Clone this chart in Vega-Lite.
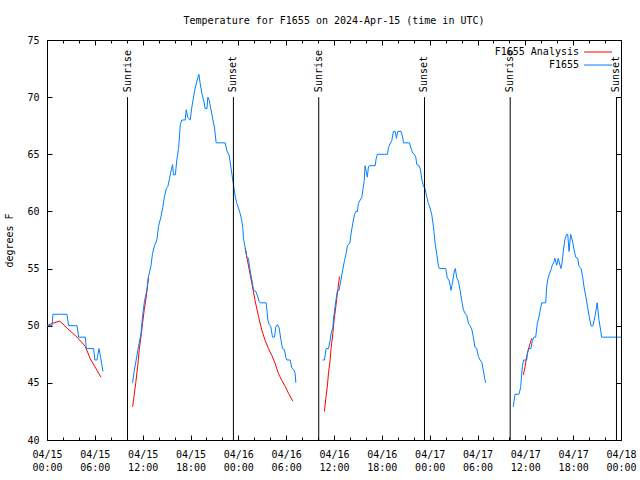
{
"$schema": "https://vega.github.io/schema/vega-lite/v6.json",
"width": 574, "height": 400,
"autosize": "none",
"padding": {"left": 47, "top": 40, "right": 19, "bottom": 40},
"background": "white",
"title": {"text": "Temperature for F1655 on 2024-Apr-15 (time in UTC)", "font": "DejaVu Sans Mono", "fontSize": 10, "fontWeight": "normal", "color": "black", "frame": "group", "anchor": "middle", "offset": 9},
"config": {
  "font": "DejaVu Sans Mono",
  "view": {"stroke": "black", "strokeWidth": 1},
  "axis": {"grid": false, "domain": false, "tickColor": "black", "tickWidth": 1, "labelColor": "black", "labelFont": "DejaVu Sans Mono", "labelFontSize": 10, "titleFont": "DejaVu Sans Mono", "titleFontSize": 10, "titleFontWeight": "normal", "titleColor": "black"},
  "legend": {"orient": "top-right", "offset": 7, "padding": 0, "symbolType": "M-4,0H4", "symbolSize": 49, "symbolStrokeWidth": 1, "labelAlign": "right", "labelOffset": -24, "labelFont": "DejaVu Sans Mono", "labelFontSize": 10, "labelColor": "black", "rowPadding": 3}
},
"datasets": {
  "analysis": [
    {"seg":1,"time":"2024-04-15T00:00:00Z","temp":50.0},{"seg":1,"time":"2024-04-15T00:38:00Z","temp":50.2},{"seg":1,"time":"2024-04-15T01:35:00Z","temp":50.4},{"seg":1,"time":"2024-04-15T01:46:00Z","temp":50.3},{"seg":1,"time":"2024-04-15T02:30:00Z","temp":49.8},{"seg":1,"time":"2024-04-15T03:46:00Z","temp":49.0},{"seg":1,"time":"2024-04-15T04:48:00Z","temp":48.2},{"seg":1,"time":"2024-04-15T05:26:00Z","temp":47.1},{"seg":1,"time":"2024-04-15T06:16:00Z","temp":46.1},{"seg":1,"time":"2024-04-15T06:46:00Z","temp":45.5},
    {"seg":2,"time":"2024-04-15T10:44:00Z","temp":42.9},{"seg":2,"time":"2024-04-15T10:56:00Z","temp":43.9},{"seg":2,"time":"2024-04-15T11:09:00Z","temp":45.1},{"seg":2,"time":"2024-04-15T11:22:00Z","temp":46.4},{"seg":2,"time":"2024-04-15T11:34:00Z","temp":47.9},{"seg":2,"time":"2024-04-15T11:47:00Z","temp":49.0},{"seg":2,"time":"2024-04-15T11:59:00Z","temp":50.2},{"seg":2,"time":"2024-04-15T12:12:00Z","temp":51.4},{"seg":2,"time":"2024-04-15T12:27:00Z","temp":52.5},{"seg":2,"time":"2024-04-15T12:44:00Z","temp":54.3},
    {"seg":3,"time":"2024-04-16T00:52:00Z","temp":56.8},{"seg":3,"time":"2024-04-16T01:04:00Z","temp":56.0},{"seg":3,"time":"2024-04-16T01:22:00Z","temp":54.9},{"seg":3,"time":"2024-04-16T01:42:00Z","temp":53.7},{"seg":3,"time":"2024-04-16T02:06:00Z","temp":52.2},{"seg":3,"time":"2024-04-16T02:32:00Z","temp":50.8},{"seg":3,"time":"2024-04-16T02:57:00Z","temp":49.6},{"seg":3,"time":"2024-04-16T03:22:00Z","temp":48.7},{"seg":3,"time":"2024-04-16T03:47:00Z","temp":48.0},{"seg":3,"time":"2024-04-16T04:12:00Z","temp":47.4},{"seg":3,"time":"2024-04-16T04:37:00Z","temp":46.7},{"seg":3,"time":"2024-04-16T05:02:00Z","temp":45.8},{"seg":3,"time":"2024-04-16T05:28:00Z","temp":45.2},{"seg":3,"time":"2024-04-16T05:52:00Z","temp":44.7},{"seg":3,"time":"2024-04-16T06:17:00Z","temp":44.1},{"seg":3,"time":"2024-04-16T06:50:00Z","temp":43.4},
    {"seg":4,"time":"2024-04-16T10:48:00Z","temp":42.5},{"seg":4,"time":"2024-04-16T10:58:00Z","temp":43.6},{"seg":4,"time":"2024-04-16T11:11:00Z","temp":44.8},{"seg":4,"time":"2024-04-16T11:18:00Z","temp":45.8},{"seg":4,"time":"2024-04-16T11:31:00Z","temp":47.0},{"seg":4,"time":"2024-04-16T11:38:00Z","temp":48.0},{"seg":4,"time":"2024-04-16T11:51:00Z","temp":49.3},{"seg":4,"time":"2024-04-16T12:01:00Z","temp":50.5},{"seg":4,"time":"2024-04-16T12:16:00Z","temp":51.9},{"seg":4,"time":"2024-04-16T12:41:00Z","temp":54.3},
    {"seg":5,"time":"2024-04-17T11:45:00Z","temp":45.7},{"seg":5,"time":"2024-04-17T11:58:00Z","temp":46.4},{"seg":5,"time":"2024-04-17T12:10:00Z","temp":47.3},{"seg":5,"time":"2024-04-17T12:22:00Z","temp":47.9},{"seg":5,"time":"2024-04-17T12:35:00Z","temp":48.4},{"seg":5,"time":"2024-04-17T12:48:00Z","temp":48.9}
  ],
  "obs": [
    {"seg":1,"time":"2024-04-15T00:00:00Z","temp":50},{"seg":1,"time":"2024-04-15T00:38:00Z","temp":50},{"seg":1,"time":"2024-04-15T00:45:00Z","temp":51},{"seg":1,"time":"2024-04-15T02:30:00Z","temp":51},{"seg":1,"time":"2024-04-15T02:43:00Z","temp":50},{"seg":1,"time":"2024-04-15T03:46:00Z","temp":50},{"seg":1,"time":"2024-04-15T03:58:00Z","temp":49},{"seg":1,"time":"2024-04-15T04:48:00Z","temp":49},{"seg":1,"time":"2024-04-15T04:56:00Z","temp":48},{"seg":1,"time":"2024-04-15T05:51:00Z","temp":48},{"seg":1,"time":"2024-04-15T06:00:00Z","temp":47},{"seg":1,"time":"2024-04-15T06:16:00Z","temp":47},{"seg":1,"time":"2024-04-15T06:31:00Z","temp":48},{"seg":1,"time":"2024-04-15T06:41:00Z","temp":47.4},{"seg":1,"time":"2024-04-15T06:51:00Z","temp":46.7},{"seg":1,"time":"2024-04-15T07:01:00Z","temp":46},
    {"seg":2,"time":"2024-04-15T10:44:00Z","temp":45.0},{"seg":2,"time":"2024-04-15T10:56:00Z","temp":46.0},{"seg":2,"time":"2024-04-15T11:11:00Z","temp":47.0},{"seg":2,"time":"2024-04-15T11:29:00Z","temp":48.2},{"seg":2,"time":"2024-04-15T11:47:00Z","temp":49.3},{"seg":2,"time":"2024-04-15T11:59:00Z","temp":50.8},{"seg":2,"time":"2024-04-15T12:14:00Z","temp":52.2},{"seg":2,"time":"2024-04-15T12:32:00Z","temp":53.1},{"seg":2,"time":"2024-04-15T12:44:00Z","temp":54.3},{"seg":2,"time":"2024-04-15T13:02:00Z","temp":55.2},{"seg":2,"time":"2024-04-15T13:14:00Z","temp":56.3},{"seg":2,"time":"2024-04-15T13:29:00Z","temp":57.0},{"seg":2,"time":"2024-04-15T13:47:00Z","temp":57.5},{"seg":2,"time":"2024-04-15T13:59:00Z","temp":58.7},{"seg":2,"time":"2024-04-15T14:17:00Z","temp":59.5},{"seg":2,"time":"2024-04-15T14:32:00Z","temp":60.4},{"seg":2,"time":"2024-04-15T14:44:00Z","temp":61.3},{"seg":2,"time":"2024-04-15T14:58:00Z","temp":62.0},{"seg":2,"time":"2024-04-15T15:10:00Z","temp":62.2},{"seg":2,"time":"2024-04-15T15:22:00Z","temp":62.9},{"seg":2,"time":"2024-04-15T15:35:00Z","temp":63.6},{"seg":2,"time":"2024-04-15T15:45:00Z","temp":64.1},{"seg":2,"time":"2024-04-15T15:52:00Z","temp":63.2},{"seg":2,"time":"2024-04-15T16:06:00Z","temp":63.2},{"seg":2,"time":"2024-04-15T16:17:00Z","temp":64.5},{"seg":2,"time":"2024-04-15T16:30:00Z","temp":65.5},{"seg":2,"time":"2024-04-15T16:37:00Z","temp":66.5},{"seg":2,"time":"2024-04-15T16:43:00Z","temp":67.6},{"seg":2,"time":"2024-04-15T16:55:00Z","temp":68.0},{"seg":2,"time":"2024-04-15T17:20:00Z","temp":68.0},{"seg":2,"time":"2024-04-15T17:28:00Z","temp":68.9},{"seg":2,"time":"2024-04-15T17:40:00Z","temp":68.2},{"seg":2,"time":"2024-04-15T17:58:00Z","temp":68.0},{"seg":2,"time":"2024-04-15T18:11:00Z","temp":69.2},{"seg":2,"time":"2024-04-15T18:23:00Z","temp":70.0},{"seg":2,"time":"2024-04-15T18:35:00Z","temp":70.8},{"seg":2,"time":"2024-04-15T18:53:00Z","temp":71.6},{"seg":2,"time":"2024-04-15T19:03:00Z","temp":72.0},{"seg":2,"time":"2024-04-15T19:13:00Z","temp":71.2},{"seg":2,"time":"2024-04-15T19:26:00Z","temp":70.3},{"seg":2,"time":"2024-04-15T19:43:00Z","temp":69.5},{"seg":2,"time":"2024-04-15T19:50:00Z","temp":69.0},{"seg":2,"time":"2024-04-15T20:04:00Z","temp":69.0},{"seg":2,"time":"2024-04-15T20:11:00Z","temp":70.0},{"seg":2,"time":"2024-04-15T20:21:00Z","temp":69.7},{"seg":2,"time":"2024-04-15T20:34:00Z","temp":68.9},{"seg":2,"time":"2024-04-15T20:49:00Z","temp":68.0},{"seg":2,"time":"2024-04-15T21:01:00Z","temp":67.3},{"seg":2,"time":"2024-04-15T21:13:00Z","temp":66.0},{"seg":2,"time":"2024-04-15T22:21:00Z","temp":66.0},{"seg":2,"time":"2024-04-15T22:34:00Z","temp":65.3},{"seg":2,"time":"2024-04-15T22:51:00Z","temp":64.9},{"seg":2,"time":"2024-04-15T22:59:00Z","temp":64.3},{"seg":2,"time":"2024-04-15T23:11:00Z","temp":63.3},{"seg":2,"time":"2024-04-15T23:24:00Z","temp":62.3},{"seg":2,"time":"2024-04-15T23:36:00Z","temp":61.3},{"seg":2,"time":"2024-04-15T23:49:00Z","temp":60.7},{"seg":2,"time":"2024-04-16T00:01:00Z","temp":60.3},{"seg":2,"time":"2024-04-16T00:14:00Z","temp":59.8},{"seg":2,"time":"2024-04-16T00:26:00Z","temp":59.2},{"seg":2,"time":"2024-04-16T00:34:00Z","temp":58.5},{"seg":2,"time":"2024-04-16T00:39:00Z","temp":57.6},{"seg":2,"time":"2024-04-16T00:52:00Z","temp":56.8},{"seg":2,"time":"2024-04-16T01:04:00Z","temp":56.0},{"seg":2,"time":"2024-04-16T01:16:00Z","temp":55.9},{"seg":2,"time":"2024-04-16T01:24:00Z","temp":55.2},{"seg":2,"time":"2024-04-16T01:37:00Z","temp":54.3},{"seg":2,"time":"2024-04-16T01:47:00Z","temp":53.7},{"seg":2,"time":"2024-04-16T01:54:00Z","temp":53.1},{"seg":2,"time":"2024-04-16T02:12:00Z","temp":53.0},{"seg":2,"time":"2024-04-16T02:27:00Z","temp":52.5},{"seg":2,"time":"2024-04-16T02:37:00Z","temp":52.1},{"seg":2,"time":"2024-04-16T02:45:00Z","temp":52.0},{"seg":2,"time":"2024-04-16T03:29:00Z","temp":52.0},{"seg":2,"time":"2024-04-16T03:35:00Z","temp":51.4},{"seg":2,"time":"2024-04-16T03:42:00Z","temp":50.5},{"seg":2,"time":"2024-04-16T03:52:00Z","temp":50.1},{"seg":2,"time":"2024-04-16T04:05:00Z","temp":49.9},{"seg":2,"time":"2024-04-16T04:17:00Z","temp":49.0},{"seg":2,"time":"2024-04-16T04:32:00Z","temp":49.0},{"seg":2,"time":"2024-04-16T04:42:00Z","temp":49.9},{"seg":2,"time":"2024-04-16T04:55:00Z","temp":50.1},{"seg":2,"time":"2024-04-16T05:07:00Z","temp":49.8},{"seg":2,"time":"2024-04-16T05:20:00Z","temp":48.8},{"seg":2,"time":"2024-04-16T05:32:00Z","temp":48.0},{"seg":2,"time":"2024-04-16T05:47:00Z","temp":47.9},{"seg":2,"time":"2024-04-16T05:58:00Z","temp":47.2},{"seg":2,"time":"2024-04-16T06:06:00Z","temp":47.0},{"seg":2,"time":"2024-04-16T06:30:00Z","temp":47.0},{"seg":2,"time":"2024-04-16T06:43:00Z","temp":46.3},{"seg":2,"time":"2024-04-16T07:00:00Z","temp":46.1},{"seg":2,"time":"2024-04-16T07:08:00Z","temp":45.8},{"seg":2,"time":"2024-04-16T07:13:00Z","temp":45.0},
    {"seg":3,"time":"2024-04-16T10:33:00Z","temp":47.0},{"seg":3,"time":"2024-04-16T10:48:00Z","temp":47.0},{"seg":3,"time":"2024-04-16T11:01:00Z","temp":48.0},{"seg":3,"time":"2024-04-16T11:18:00Z","temp":48.0},{"seg":3,"time":"2024-04-16T11:31:00Z","temp":48.7},{"seg":3,"time":"2024-04-16T11:38:00Z","temp":49.3},{"seg":3,"time":"2024-04-16T11:51:00Z","temp":49.8},{"seg":3,"time":"2024-04-16T11:56:00Z","temp":50.6},{"seg":3,"time":"2024-04-16T12:14:00Z","temp":52.2},{"seg":3,"time":"2024-04-16T12:26:00Z","temp":53.1},{"seg":3,"time":"2024-04-16T12:38:00Z","temp":53.1},{"seg":3,"time":"2024-04-16T12:52:00Z","temp":54.0},{"seg":3,"time":"2024-04-16T13:06:00Z","temp":54.9},{"seg":3,"time":"2024-04-16T13:19:00Z","temp":55.7},{"seg":3,"time":"2024-04-16T13:31:00Z","temp":56.3},{"seg":3,"time":"2024-04-16T13:41:00Z","temp":57.0},{"seg":3,"time":"2024-04-16T13:59:00Z","temp":57.2},{"seg":3,"time":"2024-04-16T14:09:00Z","temp":58.1},{"seg":3,"time":"2024-04-16T14:22:00Z","temp":59.0},{"seg":3,"time":"2024-04-16T14:34:00Z","temp":59.7},{"seg":3,"time":"2024-04-16T14:44:00Z","temp":60.0},{"seg":3,"time":"2024-04-16T14:56:00Z","temp":60.0},{"seg":3,"time":"2024-04-16T15:04:00Z","temp":60.7},{"seg":3,"time":"2024-04-16T15:17:00Z","temp":61.0},{"seg":3,"time":"2024-04-16T15:29:00Z","temp":61.2},{"seg":3,"time":"2024-04-16T15:37:00Z","temp":61.9},{"seg":3,"time":"2024-04-16T15:47:00Z","temp":62.6},{"seg":3,"time":"2024-04-16T15:54:00Z","temp":64.0},{"seg":3,"time":"2024-04-16T16:02:00Z","temp":63.5},{"seg":3,"time":"2024-04-16T16:11:00Z","temp":63.0},{"seg":3,"time":"2024-04-16T16:19:00Z","temp":63.9},{"seg":3,"time":"2024-04-16T16:26:00Z","temp":64.0},{"seg":3,"time":"2024-04-16T17:10:00Z","temp":64.0},{"seg":3,"time":"2024-04-16T17:17:00Z","temp":64.6},{"seg":3,"time":"2024-04-16T17:27:00Z","temp":65.0},{"seg":3,"time":"2024-04-16T18:42:00Z","temp":65.0},{"seg":3,"time":"2024-04-16T18:50:00Z","temp":65.6},{"seg":3,"time":"2024-04-16T19:02:00Z","temp":65.9},{"seg":3,"time":"2024-04-16T19:15:00Z","temp":66.2},{"seg":3,"time":"2024-04-16T19:27:00Z","temp":67.0},{"seg":3,"time":"2024-04-16T19:40:00Z","temp":67.0},{"seg":3,"time":"2024-04-16T19:50:00Z","temp":66.4},{"seg":3,"time":"2024-04-16T20:00:00Z","temp":67.0},{"seg":3,"time":"2024-04-16T20:25:00Z","temp":67.0},{"seg":3,"time":"2024-04-16T20:38:00Z","temp":66.4},{"seg":3,"time":"2024-04-16T20:43:00Z","temp":66.0},{"seg":3,"time":"2024-04-16T21:28:00Z","temp":66.0},{"seg":3,"time":"2024-04-16T21:40:00Z","temp":65.5},{"seg":3,"time":"2024-04-16T21:53:00Z","temp":65.1},{"seg":3,"time":"2024-04-16T22:05:00Z","temp":65.0},{"seg":3,"time":"2024-04-16T22:16:00Z","temp":64.7},{"seg":3,"time":"2024-04-16T22:23:00Z","temp":64.1},{"seg":3,"time":"2024-04-16T22:40:00Z","temp":64.0},{"seg":3,"time":"2024-04-16T22:50:00Z","temp":63.7},{"seg":3,"time":"2024-04-16T23:01:00Z","temp":62.8},{"seg":3,"time":"2024-04-16T23:13:00Z","temp":62.2},{"seg":3,"time":"2024-04-16T23:25:00Z","temp":62.0},{"seg":3,"time":"2024-04-16T23:38:00Z","temp":61.3},{"seg":3,"time":"2024-04-16T23:50:00Z","temp":60.7},{"seg":3,"time":"2024-04-17T00:03:00Z","temp":60.3},{"seg":3,"time":"2024-04-17T00:16:00Z","temp":59.7},{"seg":3,"time":"2024-04-17T00:28:00Z","temp":58.7},{"seg":3,"time":"2024-04-17T00:41:00Z","temp":57.2},{"seg":3,"time":"2024-04-17T00:53:00Z","temp":56.3},{"seg":3,"time":"2024-04-17T01:05:00Z","temp":55.3},{"seg":3,"time":"2024-04-17T01:13:00Z","temp":55.0},{"seg":3,"time":"2024-04-17T02:01:00Z","temp":55.0},{"seg":3,"time":"2024-04-17T02:13:00Z","temp":54.2},{"seg":3,"time":"2024-04-17T02:28:00Z","temp":53.9},{"seg":3,"time":"2024-04-17T02:41:00Z","temp":53.1},{"seg":3,"time":"2024-04-17T02:51:00Z","temp":53.7},{"seg":3,"time":"2024-04-17T03:04:00Z","temp":54.7},{"seg":3,"time":"2024-04-17T03:13:00Z","temp":55.0},{"seg":3,"time":"2024-04-17T03:24:00Z","temp":54.2},{"seg":3,"time":"2024-04-17T03:36:00Z","temp":53.9},{"seg":3,"time":"2024-04-17T03:49:00Z","temp":53.1},{"seg":3,"time":"2024-04-17T04:01:00Z","temp":52.2},{"seg":3,"time":"2024-04-17T04:14:00Z","temp":51.4},{"seg":3,"time":"2024-04-17T04:26:00Z","temp":51.1},{"seg":3,"time":"2024-04-17T04:39:00Z","temp":50.9},{"seg":3,"time":"2024-04-17T04:52:00Z","temp":50.2},{"seg":3,"time":"2024-04-17T05:04:00Z","temp":50.0},{"seg":3,"time":"2024-04-17T05:17:00Z","temp":49.7},{"seg":3,"time":"2024-04-17T05:29:00Z","temp":49.0},{"seg":3,"time":"2024-04-17T05:41:00Z","temp":48.1},{"seg":3,"time":"2024-04-17T05:54:00Z","temp":48.0},{"seg":3,"time":"2024-04-17T06:07:00Z","temp":47.3},{"seg":3,"time":"2024-04-17T06:19:00Z","temp":47.0},{"seg":3,"time":"2024-04-17T06:32:00Z","temp":46.8},{"seg":3,"time":"2024-04-17T06:44:00Z","temp":46.1},{"seg":3,"time":"2024-04-17T06:57:00Z","temp":45.2},{"seg":3,"time":"2024-04-17T07:02:00Z","temp":45.0},
    {"seg":4,"time":"2024-04-17T10:29:00Z","temp":42.9},{"seg":4,"time":"2024-04-17T10:42:00Z","temp":44.0},{"seg":4,"time":"2024-04-17T11:12:00Z","temp":44.0},{"seg":4,"time":"2024-04-17T11:25:00Z","temp":44.6},{"seg":4,"time":"2024-04-17T11:37:00Z","temp":46.4},{"seg":4,"time":"2024-04-17T11:47:00Z","temp":47.0},{"seg":4,"time":"2024-04-17T12:10:00Z","temp":47.0},{"seg":4,"time":"2024-04-17T12:18:00Z","temp":47.7},{"seg":4,"time":"2024-04-17T12:28:00Z","temp":48.0},{"seg":4,"time":"2024-04-17T12:42:00Z","temp":48.0},{"seg":4,"time":"2024-04-17T12:53:00Z","temp":48.7},{"seg":4,"time":"2024-04-17T13:05:00Z","temp":49.0},{"seg":4,"time":"2024-04-17T13:18:00Z","temp":49.0},{"seg":4,"time":"2024-04-17T13:30:00Z","temp":50.2},{"seg":4,"time":"2024-04-17T13:43:00Z","temp":50.8},{"seg":4,"time":"2024-04-17T13:56:00Z","temp":51.6},{"seg":4,"time":"2024-04-17T14:03:00Z","temp":52.0},{"seg":4,"time":"2024-04-17T14:33:00Z","temp":52.0},{"seg":4,"time":"2024-04-17T14:41:00Z","temp":53.4},{"seg":4,"time":"2024-04-17T14:48:00Z","temp":54.0},{"seg":4,"time":"2024-04-17T15:00:00Z","temp":54.5},{"seg":4,"time":"2024-04-17T15:13:00Z","temp":54.9},{"seg":4,"time":"2024-04-17T15:23:00Z","temp":55.3},{"seg":4,"time":"2024-04-17T15:36:00Z","temp":55.6},{"seg":4,"time":"2024-04-17T15:43:00Z","temp":55.9},{"seg":4,"time":"2024-04-17T15:56:00Z","temp":55.3},{"seg":4,"time":"2024-04-17T16:08:00Z","temp":55.9},{"seg":4,"time":"2024-04-17T16:21:00Z","temp":55.3},{"seg":4,"time":"2024-04-17T16:28:00Z","temp":55.0},{"seg":4,"time":"2024-04-17T16:38:00Z","temp":55.6},{"seg":4,"time":"2024-04-17T16:46:00Z","temp":56.6},{"seg":4,"time":"2024-04-17T16:59:00Z","temp":57.6},{"seg":4,"time":"2024-04-17T17:11:00Z","temp":58.0},{"seg":4,"time":"2024-04-17T17:19:00Z","temp":58.0},{"seg":4,"time":"2024-04-17T17:29:00Z","temp":56.5},{"seg":4,"time":"2024-04-17T17:41:00Z","temp":58.0},{"seg":4,"time":"2024-04-17T17:53:00Z","temp":57.5},{"seg":4,"time":"2024-04-17T18:06:00Z","temp":56.7},{"seg":4,"time":"2024-04-17T18:19:00Z","temp":56.0},{"seg":4,"time":"2024-04-17T18:34:00Z","temp":55.9},{"seg":4,"time":"2024-04-17T18:44:00Z","temp":55.2},{"seg":4,"time":"2024-04-17T18:59:00Z","temp":55.0},{"seg":4,"time":"2024-04-17T19:11:00Z","temp":54.3},{"seg":4,"time":"2024-04-17T19:23:00Z","temp":53.3},{"seg":4,"time":"2024-04-17T19:36:00Z","temp":52.5},{"seg":4,"time":"2024-04-17T19:49:00Z","temp":51.6},{"seg":4,"time":"2024-04-17T20:01:00Z","temp":50.8},{"seg":4,"time":"2024-04-17T20:14:00Z","temp":50.0},{"seg":4,"time":"2024-04-17T20:29:00Z","temp":50.0},{"seg":4,"time":"2024-04-17T20:44:00Z","temp":50.8},{"seg":4,"time":"2024-04-17T21:01:00Z","temp":52.0},{"seg":4,"time":"2024-04-17T21:14:00Z","temp":50.5},{"seg":4,"time":"2024-04-17T21:27:00Z","temp":49.6},{"seg":4,"time":"2024-04-17T21:34:00Z","temp":49.0},{"seg":4,"time":"2024-04-18T00:00:00Z","temp":49.0}
  ],
  "sun": [
    {"event":"Sunrise","time":"2024-04-15T10:06:00Z"},{"event":"Sunset","time":"2024-04-15T23:23:00Z"},
    {"event":"Sunrise","time":"2024-04-16T10:05:00Z"},{"event":"Sunset","time":"2024-04-16T23:21:00Z"},
    {"event":"Sunrise","time":"2024-04-17T10:06:00Z"},{"event":"Sunset","time":"2024-04-17T23:26:00Z"}
  ]
},
"layer": [
  {
    "data": {"name": "analysis"},
    "mark": {"type": "line", "strokeWidth": 1},
    "encoding": {
      "x": {"field": "time", "type": "temporal", "scale": {"type": "utc", "domain": [1713139200000, 1713398400000]},
            "axis": {"orient": "bottom", "title": null, "offset": -5, "tickSize": 5, "labelPadding": 9,
                     "values": [1713139200000, 1713160800000, 1713182400000, 1713204000000, 1713225600000, 1713247200000, 1713268800000, 1713290400000, 1713312000000, 1713333600000, 1713355200000, 1713376800000, 1713398400000],
                     "labelExpr": "[utcFormat(datum.value, '%m/%d'), utcFormat(datum.value, '%H:%M')]", "labelBaseline": "top", "labelLineHeight": 13, "labelAngle": 0, "labelFlush": false, "labelOverlap": false}},
      "y": {"field": "temp", "type": "quantitative", "scale": {"domain": [40, 75], "nice": false, "zero": false},
            "axis": {"orient": "left", "title": "degrees F", "offset": -5, "tickSize": 5, "labelPadding": 8, "titlePadding": 12, "values": [40, 45, 50, 55, 60, 65, 70, 75]}},
      "color": {"datum": "F1655 Analysis", "type": "nominal", "scale": {"domain": ["F1655 Analysis", "F1655"], "range": ["#ff0000", "#0080ff"]}, "legend": {"title": null}},
      "detail": {"field": "seg", "type": "nominal"}
    }
  },
  {
    "data": {"name": "obs"},
    "mark": {"type": "line", "strokeWidth": 1},
    "encoding": {
      "x": {"field": "time", "type": "temporal",
            "axis": {"orient": "bottom", "title": null, "offset": -3, "tickSize": 3, "labels": false,
                     "values": [1713139200000, 1713146400000, 1713153600000, 1713160800000, 1713168000000, 1713175200000, 1713182400000, 1713189600000, 1713196800000, 1713204000000, 1713211200000, 1713218400000, 1713225600000, 1713232800000, 1713240000000, 1713247200000, 1713254400000, 1713261600000, 1713268800000, 1713276000000, 1713283200000, 1713290400000, 1713297600000, 1713304800000, 1713312000000, 1713319200000, 1713326400000, 1713333600000, 1713340800000, 1713348000000, 1713355200000, 1713362400000, 1713369600000, 1713376800000, 1713384000000, 1713391200000, 1713398400000]}},
      "y": {"field": "temp", "type": "quantitative",
            "axis": {"orient": "right", "title": null, "offset": -5, "tickSize": 5, "labels": false, "values": [40, 45, 50, 55, 60, 65, 70, 75]}},
      "color": {"datum": "F1655", "type": "nominal", "legend": {"title": null}},
      "detail": {"field": "seg", "type": "nominal"}
    }
  },
  {
    "data": {"name": "sun"},
    "mark": {"type": "rule", "color": "black", "strokeWidth": 1},
    "encoding": {
      "x": {"field": "time", "type": "temporal",
            "axis": {"orient": "top", "title": null, "offset": -5, "tickSize": 5, "labels": false,
                     "values": [1713139200000, 1713160800000, 1713182400000, 1713204000000, 1713225600000, 1713247200000, 1713268800000, 1713290400000, 1713312000000, 1713333600000, 1713355200000, 1713376800000, 1713398400000]}},
      "y": {"datum": 40, "type": "quantitative", "axis": null},
      "y2": {"datum": 70}
    }
  },
  {
    "data": {"name": "sun"},
    "mark": {"type": "text", "angle": 270, "align": "left", "baseline": "middle", "dx": 5, "font": "DejaVu Sans Mono", "fontSize": 10, "color": "black"},
    "encoding": {
      "x": {"field": "time", "type": "temporal",
            "axis": {"orient": "top", "title": null, "offset": -3, "tickSize": 3, "labels": false,
                     "values": [1713139200000, 1713146400000, 1713153600000, 1713160800000, 1713168000000, 1713175200000, 1713182400000, 1713189600000, 1713196800000, 1713204000000, 1713211200000, 1713218400000, 1713225600000, 1713232800000, 1713240000000, 1713247200000, 1713254400000, 1713261600000, 1713268800000, 1713276000000, 1713283200000, 1713290400000, 1713297600000, 1713304800000, 1713312000000, 1713319200000, 1713326400000, 1713333600000, 1713340800000, 1713348000000, 1713355200000, 1713362400000, 1713369600000, 1713376800000, 1713384000000, 1713391200000, 1713398400000]}},
      "y": {"datum": 70, "type": "quantitative", "axis": null},
      "text": {"field": "event"}
    }
  }
],
"resolve": {"axis": {"x": "independent", "y": "independent"}}
}
